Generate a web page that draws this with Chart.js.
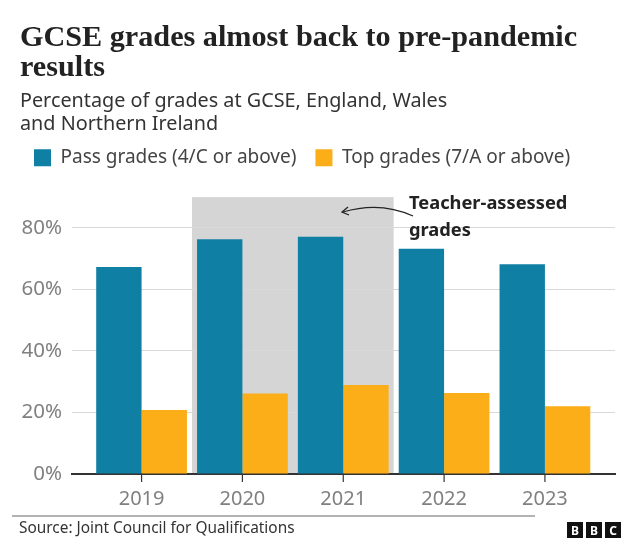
<!DOCTYPE html>
<html>
<head>
<meta charset="utf-8">
<script src="https://cdn.jsdelivr.net/npm/chart.js@4"></script>
<style>
body { margin: 0; background: #fff; }
</style>
</head>
<body>
<canvas id="graficoNotas" width="641" height="554"></canvas>
<script>
const anos = [2019, 2020, 2021, 2022, 2023];
const aprovados = [67.3, 76.3, 77.1, 73.2, 68.2];
const topo = [20.8, 26.2, 28.9, 26.3, 22.0];

const fonteSans = '"Noto Sans", sans-serif';

// grey band for the teacher-assessed years, under the grid
const faixa = {
    id: 'faixa',
    beforeDraw(chart) {
        const { ctx, scales: { x, y } } = chart;
        const x0 = x.getPixelForValue(2019.5);
        const x1 = x.getPixelForValue(2021.5);
        ctx.save();
        ctx.fillStyle = '#d5d5d5';
        ctx.fillRect(x0, y.getPixelForValue(90), x1 - x0, y.getPixelForValue(0) - y.getPixelForValue(90));
        ctx.restore();
    }
};

// year ticks, arrow, note, source line and logo
const notas = {
    id: 'notas',
    afterDraw(chart) {
        const { ctx, scales: { x, y } } = chart;
        ctx.save();

        ctx.strokeStyle = '#333';
        ctx.lineWidth = 1.2;
        anos.forEach((a) => {
            const px = x.getPixelForValue(a);
            ctx.beginPath();
            ctx.moveTo(px, y.getPixelForValue(0));
            ctx.lineTo(px, y.getPixelForValue(0) + 8);
            ctx.stroke();
        });

        ctx.fillStyle = '#222';
        ctx.textAlign = 'left';
        ctx.textBaseline = 'alphabetic';
        ctx.font = 'bold 18.3px ' + fonteSans;
        ctx.fillText('Teacher-assessed', 409, 209);
        ctx.fillText('grades', 409, 236);

        ctx.strokeStyle = '#222';
        ctx.lineWidth = 1.3;
        ctx.beginPath();
        ctx.moveTo(413, 216);
        ctx.quadraticCurveTo(380, 201, 343, 212);
        ctx.stroke();
        ctx.beginPath();
        ctx.moveTo(348, 207);
        ctx.lineTo(342, 212);
        ctx.lineTo(349, 215);
        ctx.stroke();

        ctx.strokeStyle = '#999';
        ctx.lineWidth = 1.5;
        ctx.beginPath();
        ctx.moveTo(12, 516);
        ctx.lineTo(535, 516);
        ctx.stroke();

        ctx.fillStyle = '#333';
        ctx.font = '15.4px ' + fonteSans;
        ctx.fillText('Source: Joint Council for Qualifications', 19, 533);

        ['B', 'B', 'C'].forEach((letra, i) => {
            const px = 567 + i * 19;
            ctx.fillStyle = '#111';
            ctx.fillRect(px, 522, 16, 16);
            ctx.fillStyle = '#fff';
            ctx.font = 'bold 12px ' + fonteSans;
            ctx.textAlign = 'center';
            ctx.fillText(letra, px + 8, 535);
        });
        ctx.restore();
    }
};

// extra gap under the legend, and pull it up and left because of the wide padding
const margemLegenda = {
    id: 'margemLegenda',
    beforeInit(chart) {
        const fitOriginal = chart.legend.fit;
        chart.legend.fit = function () {
            fitOriginal.bind(chart.legend)();
            this.height += 13;
        };
    },
    afterLayout(chart) {
        chart.legend.left -= 5;
        chart.legend.top -= 7;
    }
};

new Chart(document.getElementById('graficoNotas'), {
    type: 'bar',
    data: {
        datasets: [{
            label: 'Pass grades (4/C or above)',
            data: anos.map((a, i) => ({ x: a, y: aprovados[i] })),
            backgroundColor: '#0f7fa3',
            barPercentage: 1,
            categoryPercentage: 0.9
        }, {
            label: 'Top grades (7/A or above)',
            data: anos.map((a, i) => ({ x: a, y: topo[i] })),
            backgroundColor: '#fbae17',
            barPercentage: 1,
            categoryPercentage: 0.9
        }]
    },
    options: {
        responsive: false,
        animation: false,
        layout: { padding: { left: 20, right: 26, top: 23, bottom: 0 } },
        plugins: {
            tooltip: { enabled: false },
            title: {
                display: true,
                align: 'start',
                text: ['GCSE grades almost back to pre-pandemic', 'results'],
                color: '#222',
                font: { family: '"Liberation Serif", serif', size: 30.2, weight: 'bold', lineHeight: 1 },
                padding: { top: 0, bottom: 6 }
            },
            subtitle: {
                display: true,
                align: 'start',
                text: ['Percentage of grades at GCSE, England, Wales', 'and Northern Ireland'],
                color: '#333',
                font: { family: fonteSans, size: 19.8, lineHeight: 1.18 },
                padding: { top: 0, bottom: 0 }
            },
            legend: {
                display: true,
                position: 'top',
                align: 'start',
                labels: {
                    boxWidth: 17,
                    boxHeight: 17,
                    padding: 19,
                    color: '#444',
                    font: { family: fonteSans, size: 19 }
                }
            }
        },
        scales: {
            x: {
                type: 'linear',
                min: 2018.31,
                max: 2023.695,
                offset: false,
                afterFit(scale) { scale.height = 80; },
                grid: { display: false },
                border: { color: '#333', width: 2 },
                ticks: {
                    stepSize: 1,
                    includeBounds: false,
                    maxRotation: 0,
                    padding: 5,
                    color: '#808080',
                    font: { family: fonteSans, size: 20 },
                    callback: (v) => String(v)
                }
            },
            y: {
                min: 0,
                max: 90,
                afterFit(scale) { scale.width = 52; },
                grid: { drawTicks: false, color: '#d9d9d9', lineWidth: 1 },
                border: { display: false },
                ticks: {
                    stepSize: 20,
                    includeBounds: false,
                    padding: 10,
                    color: '#808080',
                    font: { family: fonteSans, size: 20.5 },
                    callback: (v) => v + '%'
                }
            }
        }
    },
    plugins: [faixa, notas, margemLegenda]
});
</script>
</body>
</html>
